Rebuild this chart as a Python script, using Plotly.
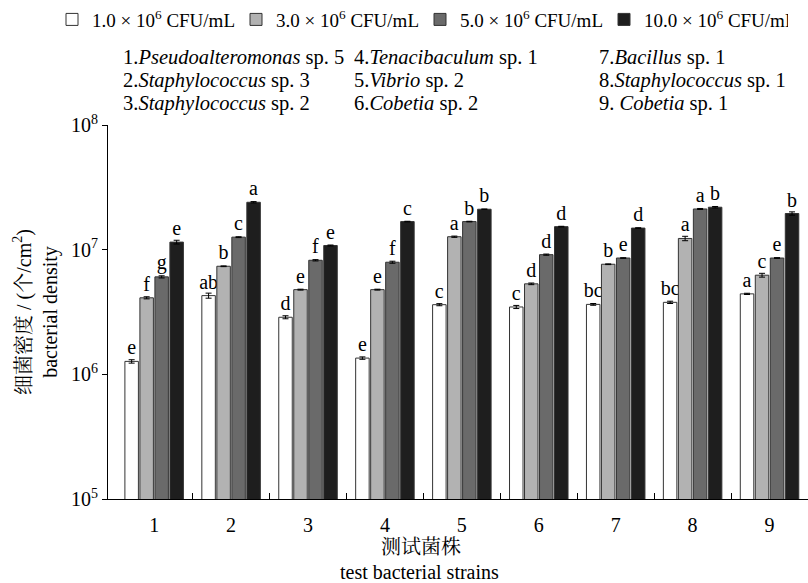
import plotly.graph_objects as go

strains = ["1", "2", "3", "4", "5", "6", "7", "8", "9"]
series_names = ["1.0 × 10<sup>6</sup> CFU/mL", "3.0 × 10<sup>6</sup> CFU/mL",
                "5.0 × 10<sup>6</sup> CFU/mL", "10.0 × 10<sup>6</sup> CFU/mL"]

dens_1 = [1.27e6, 4.28e6, 2.87e6, 1.35e6, 3.62e6, 3.47e6, 3.64e6, 3.78e6, 4.42e6]
dens_3 = [4.11e6, 7.36e6, 4.78e6, 4.78e6, 1.27e7, 5.32e6, 7.64e6, 1.23e7, 6.24e6]
dens_5 = [6.05e6, 1.26e7, 8.22e6, 7.93e6, 1.68e7, 9.12e6, 8.57e6, 2.12e7, 8.57e6]
dens_10 = [1.15e7, 2.40e7, 1.08e7, 1.68e7, 2.11e7, 1.53e7, 1.49e7, 2.19e7, 1.95e7]

sd_1 = [0.04e6, 0.2e6, 0.08e6, 0.03e6, 0.07e6, 0.1e6, 0.06e6, 0.08e6, 0.05e6]
sd_3 = [0.08e6, 0.05e6, 0.04e6, 0.04e6, 0.15e6, 0.08e6, 0.05e6, 0.5e6, 0.22e6]
sd_5 = [0.12e6, 0.1e6, 0.1e6, 0.15e6, 0.1e6, 0.1e6, 0.05e6, 0.2e6, 0.06e6]
sd_10 = [0.4e6, 0.3e6, 0.1e6, 0.1e6, 0.1e6, 0.1e6, 0.1e6, 0.3e6, 0.6e6]

sig_1 = ["e", "ab", "d", "e", "c", "c", "bc", "bc", "a"]
sig_3 = ["f", "b", "e", "e", "a", "d", "b", "a", "c"]
sig_5 = ["g", "c", "f", "f", "b", "d", "e", "a", "e"]
sig_10 = ["e", "a", "e", "c", "b", "d", "d", "b", "b"]

species_col1 = ["1.<i>Pseudoalteromonas</i> sp. 5", "2.<i>Staphylococcus</i> sp. 3", "3.<i>Staphylococcus</i> sp. 2"]
species_col2 = ["4.<i>Tenacibaculum</i> sp. 1", "5.<i>Vibrio</i> sp. 2", "6.<i>Cobetia</i> sp. 2"]
species_col3 = ["7.<i>Bacillus</i> sp. 1", "8.<i>Staphylococcus</i> sp. 1", "9. <i>Cobetia</i> sp. 1"]

y_tickvals = [1e5, 1e6, 1e7, 1e8]
y_ticktext = ["10<sup>5</sup>", "10<sup>6</sup>", "10<sup>7</sup>", "10<sup>8</sup>"]

colors = ["#ffffff", "#b2b2b2", "#6a6a6a", "#1e1e1e"]
FONT = "Liberation Serif, Noto Serif CJK SC, Noto Sans CJK SC"

xs = list(range(len(strains)))
fig = go.Figure()
for name, vals, sds, sig, col in zip(series_names, [dens_1, dens_3, dens_5, dens_10],
                                     [sd_1, sd_3, sd_5, sd_10],
                                     [sig_1, sig_3, sig_5, sig_10], colors):
    fig.add_trace(go.Bar(
        x=xs, y=vals, name=name,
        marker=dict(color=col, line=dict(color="#333333", width=1)),
        error_y=dict(type="data", array=sds, visible=True, color="#000000", thickness=1, width=3),
        text=sig, textposition="outside", constraintext="none", cliponaxis=False,
        textfont=dict(family=FONT, size=20, color="#000000"),
    ))

ann = []
col_x = [121, 352, 597]
row_y = [55, 78, 101]
for cx, col in zip(col_x, [species_col1, species_col2, species_col3]):
    for ry, txt in zip(row_y, col):
        ann.append(dict(text=txt, x=(cx - 108) / 700, y=(499 - ry) / 376, xref="paper", yref="paper",
                        xanchor="left", yanchor="middle", showarrow=False,
                        font=dict(family=FONT, size=20.5, color="#000000")))
ann.append(dict(text="测试菌株", x=(421 - 108) / 700, y=(499 - 547) / 376, xref="paper", yref="paper",
                xanchor="center", yanchor="middle", showarrow=False,
                font=dict(family=FONT, size=20, color="#000000")))
ann.append(dict(text="test bacterial strains", x=(419 - 108) / 700, y=(499 - 572) / 376, xref="paper", yref="paper",
                xanchor="center", yanchor="middle", showarrow=False,
                font=dict(family=FONT, size=20, color="#000000")))

fig.update_layout(
    width=808, height=583,
    margin=dict(l=108, r=0, t=123, b=84),
    paper_bgcolor="#ffffff", plot_bgcolor="#ffffff",
    barmode="group", bargap=0.22, bargroupgap=0.1,
    font=dict(family=FONT, size=20, color="#000000"),
    showlegend=True,
    legend=dict(orientation="h", x=(52 - 108) / 700, xanchor="left", y=(499 - 17) / 376, yanchor="middle",
                font=dict(family=FONT, size=19, color="#000000"),
                itemwidth=30, tracegroupgap=0, bgcolor="rgba(0,0,0,0)",
                entrywidth=139, entrywidthmode="pixels"),
    annotations=ann,
    xaxis=dict(range=[-0.6, 8.5], tickvals=xs, ticktext=strains,
               ticks="outside", ticklen=8, tickcolor="rgba(0,0,0,0)",
               showline=True, linecolor="#000000", linewidth=1, showgrid=False, zeroline=False,
               tickfont=dict(family=FONT, size=20),
               minor=dict(tickvals=[i + 0.5 for i in xs[:-1]], ticks="inside", ticklen=6,
                          tickcolor="#000000", tickwidth=1, showgrid=False)),
    yaxis=dict(type="log", range=[5, 8], tickvals=y_tickvals, ticktext=y_ticktext,
               ticks="outside", ticklen=5, tickcolor="#000000",
               showline=True, linecolor="#000000", linewidth=1, showgrid=False, zeroline=False,
               tickfont=dict(family=FONT, size=20),
               title=dict(text="细菌密度 / (个/cm<sup>2</sup>)<br>bacterial density",
                          font=dict(family=FONT, size=20), standoff=8)),
)

fig.write_html("out.html", config={"displayModeBar": False},
               post_script="document.body.style.margin='0';document.body.style.overflow='hidden';")
